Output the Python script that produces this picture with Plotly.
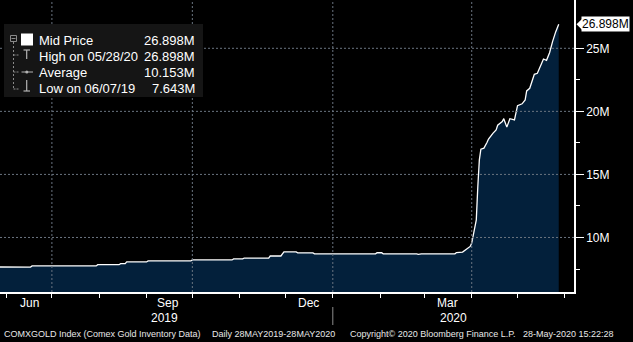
import plotly.graph_objects as go

# COMEX gold inventory, millions of troy ounces
dates = [
    "2019-05-28", "2019-06-06", "2019-06-07", "2019-06-17", "2019-06-18",
    "2019-07-30", "2019-07-31", "2019-08-14", "2019-08-15", "2019-08-18",
    "2019-08-19", "2019-09-01", "2019-09-02", "2019-09-30", "2019-10-01",
    "2019-10-27", "2019-10-28", "2019-11-03", "2019-11-04", "2019-11-20",
    "2019-11-21", "2019-11-28", "2019-11-30", "2019-12-08", "2019-12-09",
    "2019-12-19", "2019-12-20", "2020-01-29", "2020-01-30", "2020-02-02",
    "2020-02-03", "2020-02-12", "2020-02-13", "2020-02-15", "2020-02-17",
    "2020-02-19", "2020-02-25", "2020-02-26", "2020-02-28", "2020-03-21",
    "2020-03-22", "2020-03-26", "2020-03-31", "2020-04-01", "2020-04-03",
    "2020-04-04", "2020-04-05", "2020-04-06", "2020-04-07", "2020-04-09",
    "2020-04-11", "2020-04-12", "2020-04-15", "2020-04-17", "2020-04-18",
    "2020-04-21", "2020-04-22", "2020-04-24", "2020-04-26", "2020-04-29",
    "2020-05-01", "2020-05-04", "2020-05-06", "2020-05-07", "2020-05-09",
    "2020-05-12", "2020-05-14", "2020-05-17", "2020-05-18", "2020-05-20",
    "2020-05-22", "2020-05-24", "2020-05-25", "2020-05-26", "2020-05-28",
]
values = [
    7.660, 7.660, 7.643, 7.650, 7.740,
    7.740, 7.840, 7.840, 7.920, 7.920,
    8.060, 8.060, 8.140, 8.140, 8.220,
    8.220, 8.300, 8.300, 8.370, 8.370,
    8.530, 8.530, 8.850, 8.850, 8.780,
    8.780, 8.700, 8.700, 8.790, 8.790,
    8.700, 8.700, 8.740, 8.700, 8.740,
    8.700, 8.700, 8.660, 8.700, 8.700,
    8.800, 8.840, 9.290, 9.560, 10.930,
    11.400, 14.040, 16.150, 17.000, 17.080,
    17.530, 17.800, 18.270, 18.530, 18.900,
    19.190, 19.420, 18.750, 19.420, 19.320,
    20.450, 20.600, 20.900, 21.620, 21.830,
    22.940, 23.020, 23.800, 24.150, 24.050,
    24.650, 25.550, 26.050, 26.300, 26.898,
]

last_value = 26.898
legend_rows = [
    ("Mid Price", "26.898M"),
    ("High on 05/28/20", "26.898M"),
    ("Average", "10.153M"),
    ("Low on 06/07/19", "7.643M"),
]

y_ticks = [10, 15, 20, 25]
y_ticktext = ["10M", "15M", "20M", "25M"]
y_minor = [7.5, 12.5, 17.5, 22.5]
y_range = [5.676, 28.83]
x_range = ["2019-05-28", "2020-06-07"]

month_ticks = [
    "2019-06-01", "2019-07-01", "2019-08-01", "2019-09-01", "2019-10-01",
    "2019-11-01", "2019-12-01", "2020-01-01", "2020-02-01", "2020-03-01",
    "2020-04-01", "2020-05-01", "2020-06-01",
]
quarter_grid = ["2019-07-01", "2019-10-01", "2020-01-01", "2020-04-01"]
month_labels = [("2019-06-16", "Jun"), ("2019-09-15", "Sep"),
                ("2019-12-16", "Dec"), ("2020-03-16", "Mar")]
year_labels = [("2019-09-13", "2019"), ("2020-03-20", "2020")]
year_split = "2020-01-01"

footer = [
    (2, "COMXGOLD Index (Comex Gold Inventory Data)"),
    (210, "Daily 28MAY2019-28MAY2020"),
    (348, "Copyright\u00a9 2020 Bloomberg Finance L.P."),
    (521, "28-May-2020 15:22:28"),
]

W, H = 633, 342
L, R, T, B = 0, 59, 0, 50
PW, PH = W - L - R, H - T - B
FONT = "Liberation Sans, Arial, sans-serif"
NAVY = "#03203b"
GRID = "#6a7480"


def px(x):
    return (x - L) / PW


def py(y):
    return (H - B - y) / PH


fig = go.Figure()
fig.add_trace(go.Scatter(
    x=dates, y=values, mode="lines",
    line=dict(color="white", width=1.3),
    fill="tozeroy", fillcolor=NAVY,
    hoverinfo="skip", showlegend=False,
))

shapes = []
# dashed grid drawn over the filled area
for d in quarter_grid:
    shapes.append(dict(type="line", xref="x", yref="paper", x0=d, x1=d, y0=0, y1=1,
                       line=dict(color=GRID, width=1, dash="2px,2px"), layer="above"))
for v in y_ticks:
    shapes.append(dict(type="line", xref="paper", yref="y", x0=0, x1=1, y0=v, y1=v,
                       line=dict(color=GRID, width=1, dash="2px,2px"), layer="above"))
# year divider under the axis
shapes.append(dict(type="line", xref="x", yref="paper", x0=year_split, x1=year_split,
                   y0=py(307), y1=py(325), line=dict(color="#8c8c8c", width=1)))

# legend panel
shapes.append(dict(type="rect", xref="paper", yref="paper", x0=px(4), x1=px(203),
                   y0=py(97), y1=py(24), fillcolor="#151515", line=dict(width=0),
                   layer="above"))
tree = "#8a8a8a"
icon = "#b4b4b4"
shapes += [
    dict(type="rect", xref="paper", yref="paper", x0=px(10.5), x1=px(16.5),
         y0=py(41.5), y1=py(35.5), line=dict(color=tree, width=1), layer="above"),
    dict(type="line", xref="paper", yref="paper", x0=px(11.5), x1=px(15.5),
         y0=py(38.5), y1=py(38.5), line=dict(color=tree, width=1), layer="above"),
    dict(type="line", xref="paper", yref="paper", x0=px(13.5), x1=px(13.5),
         y0=py(42), y1=py(89), line=dict(color=tree, width=1, dash="2px,2px"), layer="above"),
    dict(type="rect", xref="paper", yref="paper", x0=px(21), x1=px(33),
         y0=py(45.5), y1=py(33.5), fillcolor="white", line=dict(width=0), layer="above"),
]
for yy in (55, 72, 89):
    shapes.append(dict(type="line", xref="paper", yref="paper", x0=px(13.5), x1=px(18.5),
                       y0=py(yy), y1=py(yy), line=dict(color=tree, width=1, dash="2px,1px"),
                       layer="above"))
shapes += [
    # high marker
    dict(type="line", xref="paper", yref="paper", x0=px(23.5), x1=px(30),
         y0=py(50), y1=py(50), line=dict(color=icon, width=1.2), layer="above"),
    dict(type="line", xref="paper", yref="paper", x0=px(26.7), x1=px(26.7),
         y0=py(50), y1=py(59), line=dict(color=icon, width=1.2), layer="above"),
    # average marker
    dict(type="line", xref="paper", yref="paper", x0=px(21.5), x1=px(33),
         y0=py(72), y1=py(72), line=dict(color=icon, width=1), layer="above"),
    dict(type="circle", xref="paper", yref="paper", x0=px(25.3), x1=px(28.3),
         y0=py(73.5), y1=py(70.5), fillcolor=icon, line=dict(width=0), layer="above"),
    # low marker
    dict(type="line", xref="paper", yref="paper", x0=px(26.7), x1=px(26.7),
         y0=py(80), y1=py(91), line=dict(color=icon, width=1.2), layer="above"),
    dict(type="line", xref="paper", yref="paper", x0=px(23.5), x1=px(30),
         y0=py(91), y1=py(91), line=dict(color=icon, width=1.2), layer="above"),
]

# last-value flag on the right axis
dy = 0.42
shapes.append(dict(
    type="path", xref="paper", yref="y",
    path=(f"M {px(576.5)},{last_value} L {px(582)},{last_value + dy} "
          f"L {px(582)},{last_value - dy} Z"),
    fillcolor="white", line=dict(width=0), layer="above"))

annotations = []
annotations.append(dict(
    xref="paper", yref="y", x=px(581), y=last_value, text="26.898M",
    showarrow=False, xanchor="left", yanchor="middle",
    font=dict(family=FONT, size=12, color="black"),
    bgcolor="white", borderpad=0))

row_y = [40.5, 56, 72, 88.5]
for (name, val), yy in zip(legend_rows, row_y):
    annotations.append(dict(xref="paper", yref="paper", x=px(36.5), y=py(yy), text=name,
                            showarrow=False, xanchor="left", yanchor="middle",
                            font=dict(family=FONT, size=13, color="white")))
    annotations.append(dict(xref="paper", yref="paper", x=px(197), y=py(yy), text=val,
                            showarrow=False, xanchor="right", yanchor="middle",
                            font=dict(family=FONT, size=13, color="white")))

for d, t in month_labels:
    annotations.append(dict(xref="x", yref="paper", x=d, y=py(303), text=t,
                            showarrow=False, xanchor="center", yanchor="middle",
                            font=dict(family=FONT, size=12, color="white")))
for d, t in year_labels:
    annotations.append(dict(xref="x", yref="paper", x=d, y=py(317.5), text=t,
                            showarrow=False, xanchor="center", yanchor="middle",
                            font=dict(family=FONT, size=12, color="white")))
for x0, t in footer:
    annotations.append(dict(xref="paper", yref="paper", x=px(x0), y=py(334), text=t,
                            showarrow=False, xanchor="left", yanchor="middle",
                            font=dict(family=FONT, size=9, color="#e8e8e8")))

fig.update_layout(
    width=W, height=H,
    margin=dict(l=L, r=R, t=T, b=B),
    paper_bgcolor="black", plot_bgcolor="black",
    showlegend=False,
    shapes=shapes, annotations=annotations,
    xaxis=dict(
        type="date", range=x_range, tickvals=month_ticks, showticklabels=False,
        ticks="outside", ticklen=4, tickcolor="white", tickwidth=1,
        showline=True, linecolor="white", linewidth=1.5,
        showgrid=False, zeroline=False, fixedrange=True,
    ),
    yaxis=dict(
        side="right", range=y_range, tickvals=y_ticks, ticktext=y_ticktext,
        ticks="outside", ticklen=8, tickcolor="white", tickwidth=1,
        minor=dict(tickvals=y_minor, ticks="outside", ticklen=4, tickcolor="white",
                   showgrid=False),
        showline=True, linecolor="white", linewidth=1.5,
        showgrid=False, zeroline=False, fixedrange=True,
        tickfont=dict(family=FONT, size=12, color="white"),
    ),
)

fig.write_html("out.html")
